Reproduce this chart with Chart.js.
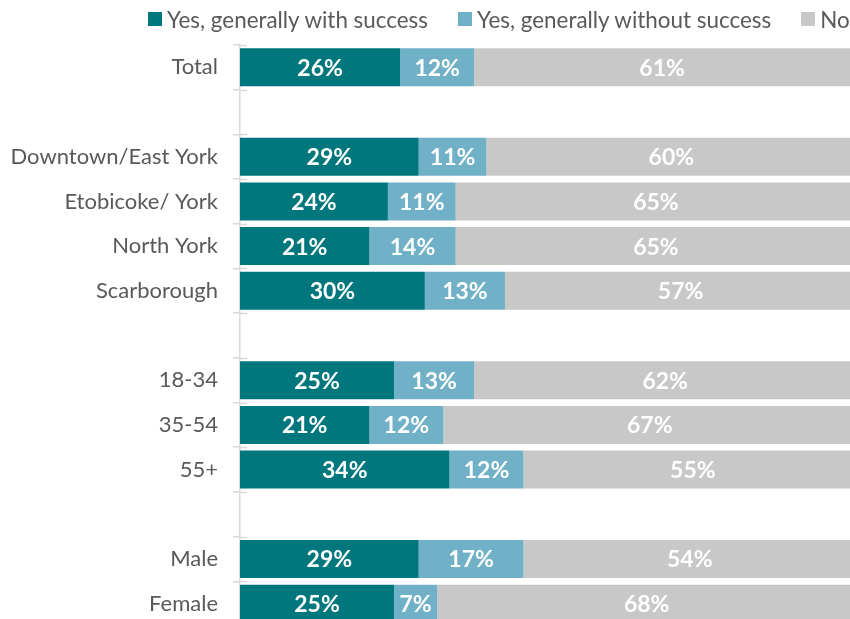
<!DOCTYPE html>
<html>
<head>
<meta charset="utf-8">
<script src="https://cdn.jsdelivr.net/npm/chart.js@4"></script>
<style>
  html, body { margin: 0; padding: 0; overflow: hidden; background: #fff; }
  #wrap { position: relative; width: 850px; height: 626px; }
  .legend {
    position: absolute; top: 4px; left: 148px; white-space: nowrap;
    font-family: Lato, "Open Sans", sans-serif; font-size: 22.4px; color: #595959;
  }
  .legend .item { display: inline-flex; align-items: center; margin-right: 30px; }
  .legend .swatch { display: inline-block; width: 14px; height: 14px; margin-right: 5px; }
</style>
</head>
<body>
<div id="wrap">
  <div id="legend"></div>
  <canvas id="chart" width="850" height="626"></canvas>
</div>
<script>
// Linhas do gráfico (linhas vazias separam os grupos)
var categorias = [
  "Total", "",
  "Downtown/East York", "Etobicoke/ York", "North York", "Scarborough", "",
  "18-34", "35-54", "55+", "",
  "Male", "Female"
];
var comSucesso  = [26, null, 29, 24, 21, 30, null, 25, 21, 34, null, 29, 25];
var semSucesso  = [12, null, 11, 11, 14, 13, null, 13, 12, 12, null, 17, 7];
var naoTentou   = [61, null, 60, 65, 65, 57, null, 62, 67, 55, null, 54, 68];

var series = [
  { label: "Yes, generally with success",    data: comSucesso, cor: "#00777d" },
  { label: "Yes, generally without success", data: semSucesso, cor: "#70b1c8" },
  { label: "No",                             data: naoTentou,  cor: "#c8c8c8" }
];

var FONT = "Lato, 'Open Sans', sans-serif";
var INK = "#595959";
var AXIS = "#d9d9d9";

// legenda em HTML, posicionada como no original (cortada à direita)
function renderLegend(container) {
  container.className = "legend";
  series.forEach(function (s) {
    var item = document.createElement("span");
    item.className = "item";
    var sw = document.createElement("span");
    sw.className = "swatch";
    sw.style.background = s.cor;
    item.appendChild(sw);
    item.appendChild(document.createTextNode(s.label));
    container.appendChild(item);
  });
}
renderLegend(document.getElementById("legend"));

// rótulos brancos dentro de cada segmento
var barLabels = {
  id: "barLabels",
  afterDatasetsDraw: function (chart) {
    var ctx = chart.ctx;
    ctx.save();
    ctx.fillStyle = "#fff";
    ctx.font = "bold 23px " + FONT;
    ctx.textAlign = "center";
    ctx.textBaseline = "middle";
    chart.data.datasets.forEach(function (ds, i) {
      chart.getDatasetMeta(i).data.forEach(function (el, j) {
        var v = ds.data[j];
        if (v == null) return;
        var p = el.getCenterPoint();
        ctx.fillText(v + "%", p.x, p.y + 1);
      });
    });
    ctx.restore();
  }
};

// pequenos traços do eixo que passam para a direita da linha
var axisStubs = {
  id: "axisStubs",
  afterDraw: function (chart) {
    var y = chart.scales.y, ctx = chart.ctx;
    ctx.save();
    ctx.strokeStyle = AXIS;
    ctx.lineWidth = 1.5;
    for (var i = 0; i <= categorias.length; i++) {
      var py = Math.round(y.getPixelForValue(i - 0.5)) + 0.5;
      ctx.beginPath();
      ctx.moveTo(chart.chartArea.left, py);
      ctx.lineTo(chart.chartArea.left + 7, py);
      ctx.stroke();
    }
    ctx.restore();
  }
};

new Chart(document.getElementById("chart"), {
  type: "bar",
  data: {
    labels: categorias,
    datasets: series.map(function (s) {
      return {
        label: s.label,
        data: s.data,
        backgroundColor: s.cor,
        borderWidth: 0,
        barPercentage: 0.85,
        categoryPercentage: 1
      };
    })
  },
  options: {
    indexAxis: "y",
    responsive: false,
    devicePixelRatio: 1,
    animation: false,
    layout: { padding: { top: 45, right: 0, bottom: 0, left: 0 } },
    scales: {
      x: { stacked: true, display: false, min: 0, max: 99 },
      y: {
        stacked: true,
        afterFit: function (scale) {
          scale.width = 240;
          scale.paddingTop = 0;
          scale.paddingBottom = 0;
        },
        grid: { drawOnChartArea: false, drawTicks: true, tickLength: 7, color: AXIS, lineWidth: 1.5 },
        border: { color: AXIS, width: 1.5 },
        ticks: { color: INK, font: { family: FONT, size: 22 }, padding: 15 }
      }
    },
    plugins: {
      legend: { display: false },
      tooltip: { enabled: false }
    }
  },
  plugins: [barLabels, axisStubs]
});
</script>
</body>
</html>
